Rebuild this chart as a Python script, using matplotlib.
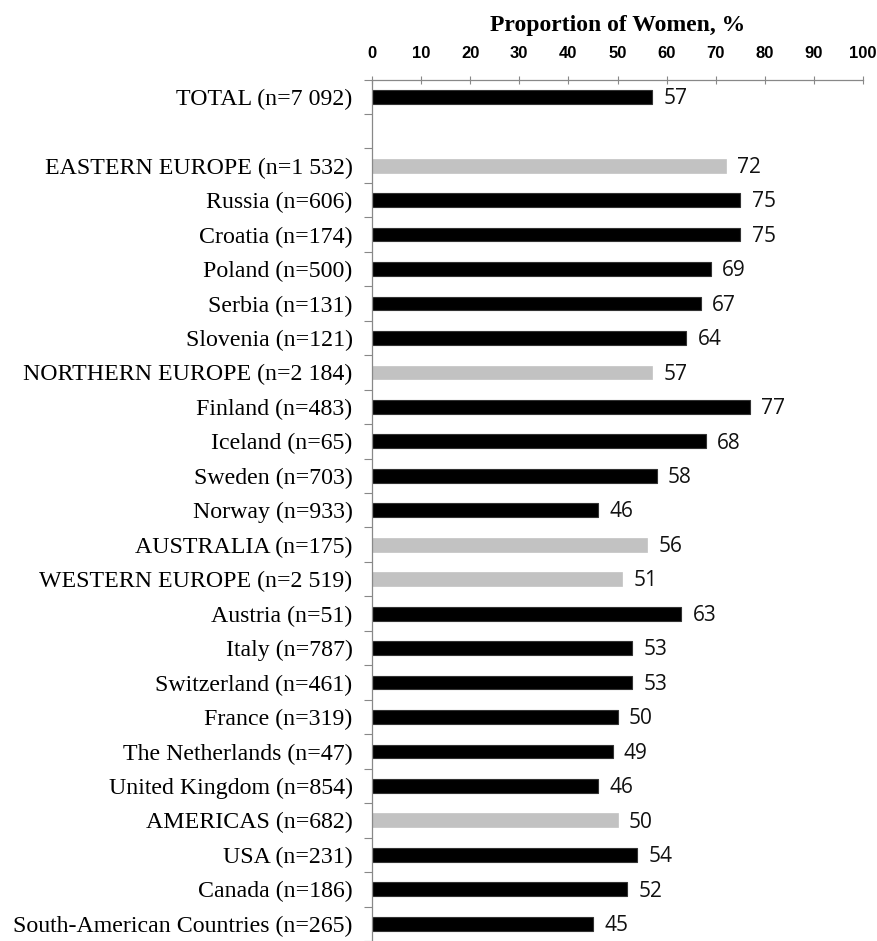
import matplotlib
matplotlib.use("Agg")
import matplotlib.pyplot as plt
import numpy as np

categories = [
    "TOTAL (n=7 092)", "",
    "EASTERN EUROPE (n=1 532)", "Russia (n=606)", "Croatia (n=174)", "Poland (n=500)",
    "Serbia (n=131)", "Slovenia (n=121)",
    "NORTHERN EUROPE (n=2 184)", "Finland (n=483)", "Iceland (n=65)", "Sweden (n=703)",
    "Norway (n=933)",
    "AUSTRALIA (n=175)",
    "WESTERN EUROPE (n=2 519)", "Austria (n=51)", "Italy (n=787)", "Switzerland (n=461)",
    "France (n=319)", "The Netherlands (n=47)", "United Kingdom (n=854)",
    "AMERICAS (n=682)", "USA (n=231)", "Canada (n=186)", "South-American Countries (n=265)",
]
values = [57, None,
          72, 75, 75, 69, 67, 64,
          57, 77, 68, 58, 46,
          56,
          51, 63, 53, 53, 50, 49, 46,
          50, 54, 52, 45]
is_region = [False, False,
             True, False, False, False, False, False,
             True, False, False, False, False,
             True,
             True, False, False, False, False, False, False,
             True, False, False, False]
xticks = [0, 10, 20, 30, 40, 50, 60, 70, 80, 90, 100]

W, H = 878, 941
fig = plt.figure(figsize=(W / 100, H / 100), dpi=100)
ax = fig.add_axes([372 / W, 0, (863 - 372) / W, 1 - 79.5 / H])

y = np.arange(len(categories))
for yi, v, reg in zip(y, values, is_region):
    if v is None:
        continue
    if reg:
        ax.barh(yi, v, height=0.40, color="#c2c2c2", edgecolor="#c2c2c2", linewidth=0.5)
    else:
        ax.barh(yi, v, height=0.40, color="black", edgecolor="#333333", linewidth=0.8)
    ax.text(v + 2.3, yi + 0.05, f"{v}", va="center", ha="left",
            fontsize=15, family="Open Sans", color="#111111")

ax.set_xlim(0, 100)
ax.set_ylim(24.27, -0.5)
ax.xaxis.tick_top()
ax.xaxis.set_label_position("top")
ax.set_xticks(xticks)
ax.set_xticklabels([str(t) for t in xticks], family="Liberation Sans",
                   fontweight="bold", fontsize=12)
ax.tick_params(axis="x", direction="inout", length=6, width=0.8, color="#888888", pad=10)

ax.set_yticks(np.arange(-0.5, len(categories), 1.0))
ax.set_yticklabels([])
ax.set_yticks(y, minor=True)
ax.set_yticklabels(categories, minor=True, family="Liberation Serif", fontsize=17.2)
ax.tick_params(axis="y", which="major", direction="out", length=6, width=0.8, color="#888888")
ax.tick_params(axis="y", which="minor", length=0, pad=14)

for s in ["right", "bottom"]:
    ax.spines[s].set_visible(False)
for s in ["left", "top"]:
    ax.spines[s].set_color("#888888")
    ax.spines[s].set_linewidth(0.9)

fig.text((372 + 863) / 2 / W, 1 - 25 / H, "Proportion of Women, %", ha="center", va="center",
         family="Liberation Serif", fontweight="bold", fontsize=17)

fig.savefig("out.png", dpi=100)
